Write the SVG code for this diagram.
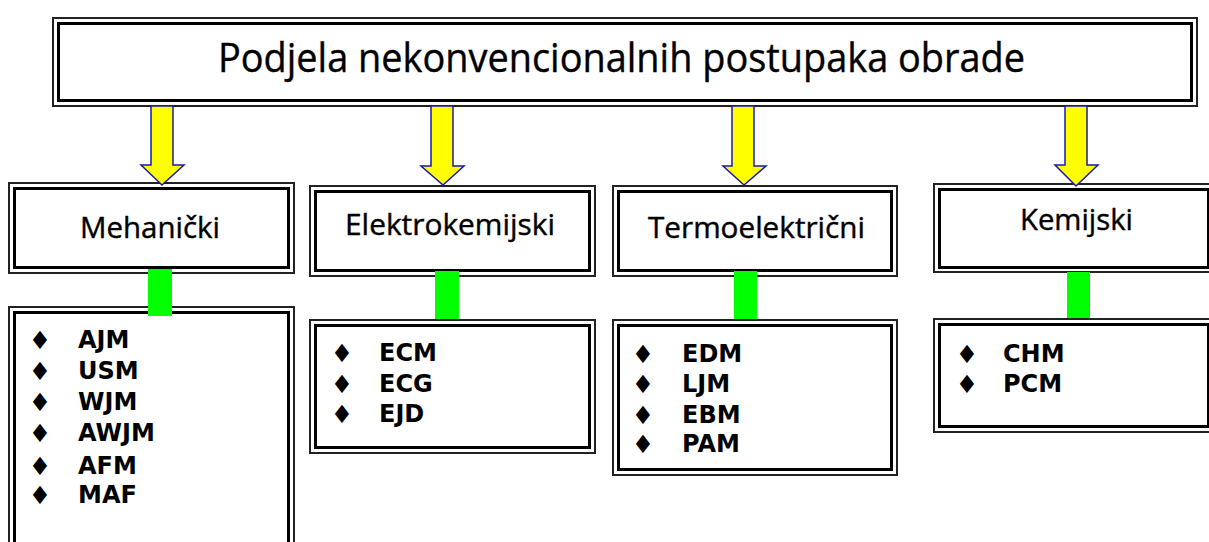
<svg xmlns="http://www.w3.org/2000/svg" width="1209" height="542" viewBox="0 0 1209 542">
<style>
.o{fill:none;stroke:#222;stroke-width:2}
.i{fill:none;stroke:#000;stroke-width:3}
.h{font-family:"Open Sans","Noto Sans",sans-serif;font-weight:500;fill:#000;stroke:#000;stroke-width:0.4;text-anchor:middle}
.it{font-family:"DejaVu Sans",Verdana,sans-serif;font-weight:bold;font-size:24px;fill:#000}
.b{font-family:"DejaVu Sans",sans-serif;font-size:25px;fill:#000;text-anchor:middle}
.arr{fill:#ffff00;stroke:#1a1aa8;stroke-width:1.5;stroke-linejoin:miter}
.g{fill:#00ff00}
</style>
<rect width="1209" height="542" fill="#fff"/>
<g id="title">
<rect class="o" x="53" y="18" width="1144" height="88"/>
<rect class="i" x="58.5" y="23.5" width="1133" height="77"/>
<text class="h" x="621.5" y="72" font-size="40" textLength="807" lengthAdjust="spacingAndGlyphs">Podjela nekonvencionalnih postupaka obrade</text>
</g>
<g id="mehanicki">
<rect class="o" x="9" y="183" width="285" height="90"/>
<rect class="i" x="14.5" y="188.5" width="274" height="79"/>
<text class="h" x="150" y="238" font-size="29" textLength="140" lengthAdjust="spacingAndGlyphs">Mehanički</text>
</g>
<g id="elektrokemijski">
<rect class="o" x="310" y="186" width="285" height="90"/>
<rect class="i" x="315.5" y="191.5" width="274" height="79"/>
<text class="h" x="450" y="235" font-size="29" textLength="210" lengthAdjust="spacingAndGlyphs">Elektrokemijski</text>
</g>
<g id="termoelektricni">
<rect class="o" x="613" y="186" width="284" height="90"/>
<rect class="i" x="618.5" y="191.5" width="273" height="79"/>
<text class="h" x="756.5" y="238" font-size="29" textLength="217" lengthAdjust="spacingAndGlyphs">Termoelektrični</text>
</g>
<g id="kemijski">
<rect class="o" x="934" y="184" width="280" height="88"/>
<rect class="i" x="939.5" y="189.5" width="269" height="78"/>
<text class="h" x="1076.5" y="230" font-size="29" textLength="113" lengthAdjust="spacingAndGlyphs">Kemijski</text>
</g>
<g id="mehanicki-list">
<rect class="o" x="9" y="307" width="285" height="252"/>
<rect class="i" x="14.5" y="312.5" width="274" height="241"/>
<text class="b" x="40" y="349">♦</text><text class="it" x="78" y="348">AJM</text>
<text class="b" x="40" y="380">♦</text><text class="it" x="78" y="379">USM</text>
<text class="b" x="40" y="411">♦</text><text class="it" x="78" y="410">WJM</text>
<text class="b" x="40" y="442">♦</text><text class="it" x="78" y="441">AWJM</text>
<text class="b" x="40" y="475">♦</text><text class="it" x="78" y="474">AFM</text>
<text class="b" x="40" y="504">♦</text><text class="it" x="78" y="503">MAF</text>
</g>
<g id="elektrokemijski-list">
<rect class="o" x="310" y="320" width="285" height="133"/>
<rect class="i" x="315.5" y="325.5" width="274" height="122"/>
<text class="b" x="342" y="362">♦</text><text class="it" x="379" y="361">ECM</text>
<text class="b" x="342" y="393">♦</text><text class="it" x="379" y="392">ECG</text>
<text class="b" x="342" y="423">♦</text><text class="it" x="379" y="422">EJD</text>
</g>
<g id="termoelektricni-list">
<rect class="o" x="613" y="320" width="284" height="155"/>
<rect class="i" x="618.5" y="325.5" width="273" height="144"/>
<text class="b" x="643" y="363">♦</text><text class="it" x="682" y="362">EDM</text>
<text class="b" x="643" y="393">♦</text><text class="it" x="682" y="392">LJM</text>
<text class="b" x="643" y="424">♦</text><text class="it" x="682" y="423">EBM</text>
<text class="b" x="643" y="453">♦</text><text class="it" x="682" y="452">PAM</text>
</g>
<g id="kemijski-list">
<rect class="o" x="934" y="319" width="280" height="113"/>
<rect class="i" x="939.5" y="324.5" width="269" height="102"/>
<text class="b" x="967" y="363">♦</text><text class="it" x="1003" y="362">CHM</text>
<text class="b" x="967" y="393">♦</text><text class="it" x="1003" y="392">PCM</text>
</g>
<g id="connectors">
<polygon class="arr" points="151,106 173,106 173,165 184,165 162,185 141,165 151,165"/>
<polygon class="arr" points="431,106 453,106 453,166 464,166 443,185 421,166 431,166"/>
<polygon class="arr" points="732,106 754,106 754,166 766,166 744,185 723,166 732,166"/>
<polygon class="arr" points="1065,106 1087,106 1087,165 1098,165 1076,186 1055,165 1065,165"/>
<rect class="g" x="148" y="269" width="24" height="47"/>
<rect class="g" x="435" y="271" width="24" height="48"/>
<rect class="g" x="734" y="271" width="23" height="48"/>
<rect class="g" x="1067" y="272" width="23" height="46"/>
</g>
</svg>
